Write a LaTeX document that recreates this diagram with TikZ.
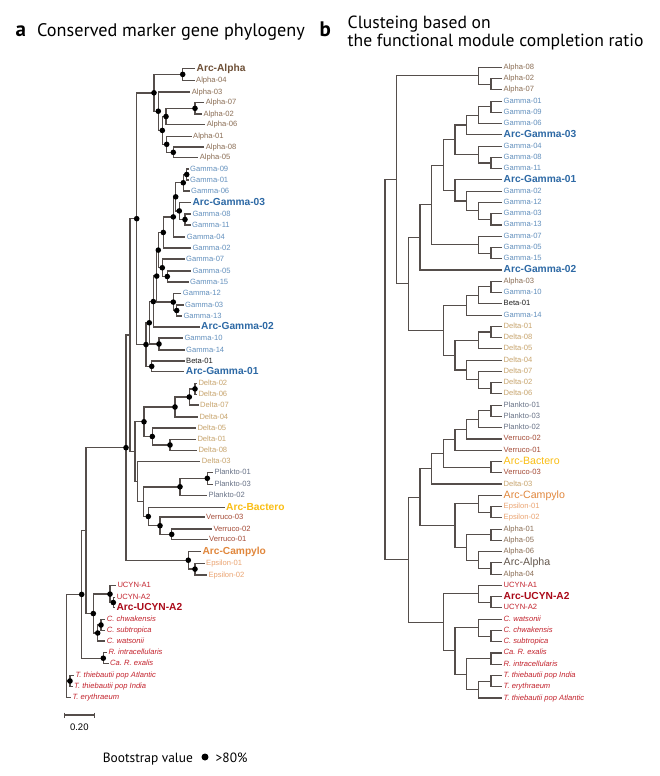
\documentclass[tikz,border=0pt]{standalone}
\usepackage{fontspec}
\setmainfont{Liberation Sans}
\newfontfamily\tfont{PT Sans}
\usetikzlibrary{calc}
\frenchspacing
\definecolor{linec}{RGB}{85,78,75}
\definecolor{alphaC}{RGB}{139,110,85}
\definecolor{arcalphaC}{RGB}{110,80,55}
\definecolor{arcalphaB}{RGB}{100,88,78}
\definecolor{gammaC}{RGB}{100,145,190}
\definecolor{arcgammaC}{RGB}{45,105,165}
\definecolor{betaC}{RGB}{30,30,30}
\definecolor{deltaC}{RGB}{200,165,110}
\definecolor{planktoC}{RGB}{105,115,135}
\definecolor{bacteroC}{RGB}{250,190,20}
\definecolor{verrucoC}{RGB}{165,75,55}
\definecolor{campyloC}{RGB}{225,135,60}
\definecolor{epsilonC}{RGB}{235,165,115}
\definecolor{cyanoC}{RGB}{195,35,45}
\definecolor{arccyanoC}{RGB}{170,10,25}
\newcommand\jn[4]{%
  \path let \p1=(#3), \p2=(#4) in coordinate (#1) at ({#2pt},{0.5*\y1+0.5*\y2});
  \draw[br] (#3) -| (#1) |- (#4);}
\begin{document}
\begin{tikzpicture}[x=1pt,y=-1pt,
  lab/.style={anchor=west, inner xsep=1.5pt, inner ysep=0pt, font=\fontsize{7.6}{9}\selectfont, text height=5.4pt, text depth=1.4pt},
  alab/.style={lab, font=\fontsize{10.2}{12}\bfseries\selectfont, text height=7.3pt, text depth=1.9pt},
  rlab/.style={lab, font=\fontsize{10.6}{12}\selectfont, text height=7.5pt, text depth=2pt},
  tit/.style={anchor=base west, inner sep=0pt, font=\tfont\fontsize{18.2}{20}\selectfont},
  titb/.style={anchor=base west, inner sep=0pt, font=\tfont\fontsize{17.6}{20}\selectfont},
  tlet/.style={anchor=base west, inner sep=0pt, font=\tfont\bfseries\fontsize{21}{21}\selectfont},
  dotc/.style={fill=black}]
\fill[white] (0,0) rectangle (660,776);
\useasboundingbox (0,0) rectangle (660,776);

% ---------- titles ----------
\node[tlet] (ta) at (15.5,36.5) {a};
\node[tit] (tat) at (37,36.5) {Conserved marker gene phylogeny};
\node[tlet] (tb) at (319.5,37) {b};
\node[titb] (tb1) at (347.5,28.5) {Clusteing based on};
\node[titb] (tb2) at (347.5,46.5) {the functional module completion ratio};

% ---------- tree a : leaves ----------
\node[alab,text=arcalphaC] (aArcAlpha) at (195,68.3) {Arc-Alpha};
\node[lab,text=alphaC] (aA04) at (194.5,80.5) {Alpha-04};
\node[lab,text=alphaC] (aA03) at (190.2,92) {Alpha-03};
\node[lab,text=alphaC] (aA07) at (204.2,102.7) {Alpha-07};
\node[lab,text=alphaC] (aA02) at (201.8,114) {Alpha-02};
\node[lab,text=alphaC] (aA06) at (205.2,124.7) {Alpha-06};
\node[lab,text=alphaC] (aA01) at (191.5,136.3) {Alpha-01};
\node[lab,text=alphaC] (aA08) at (204.2,147) {Alpha-08};
\node[lab,text=alphaC] (aA05) at (198.2,157.7) {Alpha-05};
\node[lab,text=gammaC] (aG09) at (188.5,169) {Gamma-09};
\node[lab,text=gammaC] (aG01) at (188.5,180) {Gamma-01};
\node[lab,text=gammaC] (aG06) at (189.5,191) {Gamma-06};
\node[alab,text=arcgammaC] (aAG03) at (190.8,202.3) {Arc-Gamma-03};
\node[lab,text=gammaC] (aG08) at (190.8,214) {Gamma-08};
\node[lab,text=gammaC] (aG11) at (190.5,225) {Gamma-11};
\node[lab,text=gammaC] (aG04) at (185.2,237) {Gamma-04};
\node[lab,text=gammaC] (aG02) at (190.8,248) {Gamma-02};
\node[lab,text=gammaC] (aG07) at (184.5,259) {Gamma-07};
\node[lab,text=gammaC] (aG05) at (190.8,271) {Gamma-05};
\node[lab,text=gammaC] (aG15) at (188.5,282) {Gamma-15};
\node[lab,text=gammaC] (aG12) at (181.2,293.7) {Gamma-12};
\node[lab,text=gammaC] (aG03) at (183.5,305) {Gamma-03};
\node[lab,text=gammaC] (aG13) at (181.8,316) {Gamma-13};
\node[alab,text=arcgammaC] (aAG02) at (199.5,327) {Arc-Gamma-02};
\node[lab,text=gammaC] (aG10) at (182.8,338) {Gamma-10};
\node[lab,text=gammaC] (aG14) at (184.5,350) {Gamma-14};
\node[lab,text=betaC] (aB01) at (184.5,361) {Beta-01};
\node[alab,text=arcgammaC] (aAG01) at (184.2,371.7) {Arc-Gamma-01};
\node[lab,text=deltaC] (aD02) at (196.8,383.3) {Delta-02};
\node[lab,text=deltaC] (aD06) at (196.8,394.5) {Delta-06};
\node[lab,text=deltaC] (aD07) at (198.5,405) {Delta-07};
\node[lab,text=deltaC] (aD04) at (197.8,417) {Delta-04};
\node[lab,text=deltaC] (aD05) at (195.8,428) {Delta-05};
\node[lab,text=deltaC] (aD01) at (195.8,439.3) {Delta-01};
\node[lab,text=deltaC] (aD08) at (196.8,450.7) {Delta-08};
\node[lab,text=deltaC] (aD03) at (200.2,461.3) {Delta-03};
\node[lab,text=planktoC] (aP01) at (212.8,472.3) {Plankto-01};
\node[lab,text=planktoC] (aP03) at (212.8,484.3) {Plankto-03};
\node[lab,text=planktoC] (aP02) at (206.8,495.3) {Plankto-02};
\node[alab,text=bacteroC] (aABac) at (224.5,507.3) {Arc-Bactero};
\node[lab,text=verrucoC] (aV03) at (204.5,517) {Verruco-03};
\node[lab,text=verrucoC] (aV02) at (211.8,529) {Verruco-02};
\node[lab,text=verrucoC] (aV01) at (207.5,539.7) {Verruco-01};
\node[alab,text=campyloC] (aACam) at (200.8,551.3) {Arc-Campylo};
\node[lab,text=epsilonC] (aE01) at (204.5,563.2) {Epsilon-01};
\node[lab,text=epsilonC] (aE02) at (206.8,575) {Epsilon-02};
\node[lab,text=cyanoC] (aU1) at (115.8,585.7) {UCYN-A1};
\node[lab,text=cyanoC] (aU2) at (115.2,597.3) {UCYN-A2};
\node[alab,text=arccyanoC] (aAU2) at (114.8,607.7) {Arc-UCYN-A2};
\node[lab,text=cyanoC] (aCc) at (105.2,619.3) {\itshape C. chwakensis};
\node[lab,text=cyanoC] (aCs) at (105.2,630.7) {\itshape C. subtropica};
\node[lab,text=cyanoC] (aCw) at (105.2,641) {\itshape C. watsonii};
\node[lab,text=cyanoC] (aRi) at (106.8,652.7) {\itshape R. intracellularis};
\node[lab,text=cyanoC] (aRe) at (108.5,663.7) {\itshape Ca. R. exalis};
\node[lab,text=cyanoC] (aTA) at (73.8,675.3) {\itshape T. thiebautii pop Atlantic};
\node[lab,text=cyanoC] (aTI) at (72.5,686.7) {\itshape T. thiebautii pop India};
\node[lab,text=cyanoC] (aTe) at (70.8,697.7) {\itshape T. erythraeum};

% ---------- tree a : branches ----------
\begin{scope}[br/.style={draw=linec, line width=1.4pt}]
\jn{na1}{182.7}{aArcAlpha.west}{aA04.west}
\jn{na2}{195}{aA07.west}{aA02.west}
\jn{na3}{166}{na2}{aA06.west}
\jn{na4}{173.3}{aA08.west}{aA05.west}
\jn{na5}{166.7}{aA01.west}{na4}
\jn{na6}{162.3}{na3}{na5}
\jn{na7}{158.3}{aA03.west}{na6}
\jn{na8}{154}{na1}{na7}
\jn{ng1}{186.7}{aG09.west}{aG01.west}
\jn{ng2}{183.3}{ng1}{aG06.west}
\jn{ng3}{185}{aG08.west}{aG11.west}
\jn{ng4}{179.3}{aAG03.west}{ng3}
\jn{ng5}{175.7}{ng2}{ng4}
\jn{ng6}{173.3}{ng5}{aG04.west}
\jn{ng7}{163.3}{ng6}{aG02.west}
\jn{ng8}{167.3}{aG05.west}{aG15.west}
\jn{ng9}{162.3}{aG07.west}{ng8}
\jn{ng10}{158.3}{ng7}{ng9}
\jn{ng11}{176.7}{aG03.west}{aG13.west}
\jn{ng12}{173.3}{aG12.west}{ng11}
\jn{ng13}{156.7}{ng10}{ng12}
\jn{ng14}{153.3}{ng13}{aAG02.west}
\jn{ng15}{159}{aG10.west}{aG14.west}
\jn{ng16}{149.3}{ng14}{ng15}
\jn{ng17}{151.7}{aB01.west}{aAG01.west}
\jn{ng18}{146}{ng16}{ng17}
\jn{nag}{136.7}{na8}{ng18}
\jn{nd1}{195}{aD02.west}{aD06.west}
\jn{nd2}{189.3}{nd1}{aD07.west}
\jn{nd3}{175}{nd2}{aD04.west}
\jn{nd4}{170}{aD01.west}{aD08.west}
\jn{nd5}{152.3}{aD05.west}{nd4}
\jn{nd6}{144}{nd3}{nd5}
\jn{np1}{207.3}{aP01.west}{aP03.west}
\jn{np2}{180}{np1}{aP02.west}
\jn{nv1}{171.7}{aV02.west}{aV01.west}
\jn{nv2}{160}{aV03.west}{nv1}
\jn{nb}{148.3}{aABac.west}{nv2}
\jn{npb}{143.3}{np2}{nb}
\jn{nd7}{137.3}{aD03.west}{npb}
\jn{nd8}{135}{nd6}{nd7}
\jn{nr2}{130}{nag}{nd8}
\jn{ne1}{195}{aE01.west}{aE02.west}
\jn{nc}{188.3}{aACam.west}{ne1}
\jn{nr1}{126}{nr2}{nc}
\jn{nu1}{113.3}{aU2.west}{aAU2.west}
\jn{nu2}{110}{aU1.west}{nu1}
\jn{ncr1}{101}{aCc.west}{aCs.west}
\jn{ncr2}{97.7}{ncr1}{aCw.west}
\jn{ncy}{93.3}{nu2}{ncr2}
\jn{nr0}{86}{nr1}{ncy}
\jn{nri}{103.3}{aRi.west}{aRe.west}
\jn{nq}{81.7}{nr0}{nri}
\jn{nt1}{70}{aTA.west}{aTI.west}
\path let \p1=(nq) in coordinate (nroot) at (66.7pt,\y1);
\draw[br] (nq) -- (nroot) |- (aTe.west);
\draw[br] (nroot |- nt1) -- (nt1);
\end{scope}
\foreach \n in {na1,na2,na3,na4,na5,na6,na7,na8,ng1,ng2,ng3,ng4,ng5,ng6,ng7,ng8,ng9,ng10,ng11,ng12,ng13,ng14,ng15,ng16,ng17,ng18,nag,nd1,nd2,nd3,nd4,nd5,nd6,np1,np2,nv1,nv2,nb,ne1,nc,nr1,nu1,nu2,ncr1,ncr2,ncy,nri,nq,nt1}
  \fill[dotc] (\n) circle (2.8pt);

% scale bar
\coordinate (sb1) at (64.3,715);
\coordinate (sb2) at (94.3,715);
\draw[draw=linec, line width=1.1pt] (sb1) -- (sb2);
\draw[draw=linec, line width=1.1pt] ($(sb1)+(0,-2.5)$) -- ($(sb1)+(0,2.5)$);
\draw[draw=linec, line width=1.1pt] ($(sb2)+(0,-2.5)$) -- ($(sb2)+(0,2.5)$);
\node[font=\fontsize{9.5}{11}\selectfont, inner sep=0pt] (sbl) at (79.3,727) {0.20};

% legend
\node[anchor=base west, inner sep=0pt, font=\tfont\fontsize{13.4}{15}\selectfont] (bsv) at (102.7,762) {Bootstrap value};
\node[circle, fill=black, inner sep=0pt, minimum size=7pt] (bsd) at (205,757) {};
\node[anchor=base west, inner sep=0pt, font=\tfont\fontsize{13.4}{15}\selectfont] (bsp) at (215.5,762) {>80\%};

% ---------- tree b : leaves ----------
\node[lab,text=alphaC] (bA08) at (502,67.3) {Alpha-08};
\node[lab,text=alphaC] (bA02) at (502,78.56) {Alpha-02};
\node[lab,text=alphaC] (bA07) at (502,89.83) {Alpha-07};
\node[lab,text=gammaC] (bG01) at (502,101.09) {Gamma-01};
\node[lab,text=gammaC] (bG09) at (502,112.35) {Gamma-09};
\node[lab,text=gammaC] (bG06) at (502,123.62) {Gamma-06};
\node[alab,text=arcgammaC] (bAG03) at (502,134.88) {Arc-Gamma-03};
\node[lab,text=gammaC] (bG04) at (502,146.14) {Gamma-04};
\node[lab,text=gammaC] (bG08) at (502,157.40) {Gamma-08};
\node[lab,text=gammaC] (bG11) at (502,168.67) {Gamma-11};
\node[alab,text=arcgammaC] (bAG01) at (502,179.93) {Arc-Gamma-01};
\node[lab,text=gammaC] (bG02) at (502,191.19) {Gamma-02};
\node[lab,text=gammaC] (bG12) at (502,202.46) {Gamma-12};
\node[lab,text=gammaC] (bG03) at (502,213.72) {Gamma-03};
\node[lab,text=gammaC] (bG13) at (502,224.98) {Gamma-13};
\node[lab,text=gammaC] (bG07) at (502,236.25) {Gamma-07};
\node[lab,text=gammaC] (bG05) at (502,247.51) {Gamma-05};
\node[lab,text=gammaC] (bG15) at (502,258.77) {Gamma-15};
\node[alab,text=arcgammaC] (bAG02) at (502,270.03) {Arc-Gamma-02};
\node[lab,text=alphaC] (bA03) at (502,281.30) {Alpha-03};
\node[lab,text=gammaC] (bG10) at (502,292.56) {Gamma-10};
\node[lab,text=betaC] (bB01) at (502,303.82) {Beta-01};
\node[lab,text=gammaC] (bG14) at (502,315.09) {Gamma-14};
\node[lab,text=deltaC] (bD01) at (502,326.35) {Delta-01};
\node[lab,text=deltaC] (bD08) at (502,337.61) {Delta-08};
\node[lab,text=deltaC] (bD05) at (502,348.88) {Delta-05};
\node[lab,text=deltaC] (bD04) at (502,360.14) {Delta-04};
\node[lab,text=deltaC] (bD07) at (502,371.40) {Delta-07};
\node[lab,text=deltaC] (bD02) at (502,382.66) {Delta-02};
\node[lab,text=deltaC] (bD06) at (502,393.93) {Delta-06};
\node[lab,text=planktoC] (bP01) at (502,405.19) {Plankto-01};
\node[lab,text=planktoC] (bP03) at (502,416.45) {Plankto-03};
\node[lab,text=planktoC] (bP02) at (502,427.72) {Plankto-02};
\node[lab,text=verrucoC] (bV02) at (502,438.98) {Verruco-02};
\node[lab,text=verrucoC] (bV01) at (502,450.24) {Verruco-01};
\node[rlab,text=bacteroC] (bABac) at (502,461.51) {Arc-Bactero};
\node[lab,text=verrucoC] (bV03) at (502,472.77) {Verruco-03};
\node[lab,text=deltaC] (bD03) at (502,484.03) {Delta-03};
\node[rlab,text=campyloC] (bACam) at (502,495.29) {Arc-Campylo};
\node[lab,text=epsilonC] (bE01) at (502,506.56) {Epsilon-01};
\node[lab,text=epsilonC] (bE02) at (502,517.82) {Epsilon-02};
\node[lab,text=alphaC] (bA01) at (502,529.08) {Alpha-01};
\node[lab,text=alphaC] (bA05) at (502,540.35) {Alpha-05};
\node[lab,text=alphaC] (bA06) at (502,551.61) {Alpha-06};
\node[rlab,text=arcalphaB] (bAA) at (502,562.87) {Arc-Alpha};
\node[lab,text=alphaC] (bA04) at (502,574.14) {Alpha-04};
\node[lab,text=cyanoC] (bU1) at (502,585.40) {UCYN-A1};
\node[alab,text=arccyanoC] (bAU2) at (502,596.66) {Arc-UCYN-A2};
\node[lab,text=cyanoC] (bU2) at (502,607.92) {UCYN-A2};
\node[lab,text=cyanoC] (bCw) at (502,619.19) {\itshape C. watsonii};
\node[lab,text=cyanoC] (bCc) at (502,630.45) {\itshape C. chwakensis};
\node[lab,text=cyanoC] (bCs) at (502,641.71) {\itshape C. subtropica};
\node[lab,text=cyanoC] (bRe) at (502,652.98) {\itshape Ca. R. exalis};
\node[lab,text=cyanoC] (bRi) at (502,664.24) {\itshape R. intracellularis};
\node[lab,text=cyanoC] (bTI) at (502,675.50) {\itshape T. thiebautii pop India};
\node[lab,text=cyanoC] (bTe) at (502,686.77) {\itshape T. erythraeum};
\node[lab,text=cyanoC] (bTA) at (502,698.03) {\itshape T. thiebautii pop Atlantic};

% ---------- tree b : branches ----------
\begin{scope}[br/.style={draw=linec, line width=1.1pt}]
\jn{ba1}{491}{bA02.west}{bA07.west}
\jn{ba2}{478.3}{bA08.west}{ba1}
\jn{bg1}{491}{bG01.west}{bG09.west}
\jn{bg2}{478.3}{bg1}{bG06.west}
\jn{bg3}{466.7}{bg2}{bAG03.west}
\jn{bg4}{491}{bG08.west}{bG11.west}
\jn{bg5}{478.3}{bG04.west}{bg4}
\jn{bg6}{455}{bg3}{bg5}
\jn{bg7}{491}{bG03.west}{bG13.west}
\jn{bg8}{478.3}{bG12.west}{bg7}
\jn{bg9}{466.7}{bG02.west}{bg8}
\jn{bg10}{455}{bAG01.west}{bg9}
\jn{bg11}{443.3}{bg6}{bg10}
\jn{bg12}{491}{bG05.west}{bG15.west}
\jn{bg13}{478.3}{bG07.west}{bg12}
\jn{bg14}{431.7}{bg11}{bg13}
\jn{bg15}{420}{bg14}{bAG02.west}
\jn{bm1}{491}{bA03.west}{bG10.west}
\jn{bm2}{478.3}{bm1}{bB01.west}
\jn{bm3}{466.7}{bm2}{bG14.west}
\jn{bd1}{491}{bD01.west}{bD08.west}
\jn{bd2}{478.3}{bd1}{bD05.west}
\jn{bd3}{491}{bD02.west}{bD06.west}
\jn{bd4}{478.3}{bD07.west}{bd3}
\jn{bd5}{466.7}{bD04.west}{bd4}
\jn{bd6}{455}{bd2}{bd5}
\jn{bm4}{443.3}{bm3}{bd6}
\jn{bb2}{408.3}{bg15}{bm4}
\jn{bb1}{396.7}{ba2}{bb2}
\jn{bp1}{491}{bP01.west}{bP03.west}
\jn{bp2}{478.3}{bp1}{bP02.west}
\jn{bp3}{466.7}{bp2}{bV02.west}
\jn{bp4}{455}{bp3}{bV01.west}
\jn{bv1}{491}{bABac.west}{bV03.west}
\jn{bp5}{443.3}{bp4}{bv1}
\jn{bp6}{431.7}{bp5}{bD03.west}
\jn{bc1}{491}{bE01.west}{bE02.west}
\jn{bc2}{478.3}{bACam.west}{bc1}
\jn{bl1}{491}{bA01.west}{bA05.west}
\jn{bl2}{491}{bAA.west}{bA04.west}
\jn{bl3}{478.3}{bA06.west}{bl2}
\jn{bl4}{466.7}{bl1}{bl3}
\jn{bc3}{455}{bc2}{bl4}
\jn{bp7}{420}{bp6}{bc3}
\jn{bu1}{491}{bAU2.west}{bU2.west}
\jn{bu2}{478.3}{bU1.west}{bu1}
\jn{bcr1}{491}{bCc.west}{bCs.west}
\jn{bcr2}{478.3}{bCw.west}{bcr1}
\jn{br1}{491}{bRe.west}{bRi.west}
\jn{bt1}{491}{bTI.west}{bTe.west}
\jn{bt2}{478.3}{bt1}{bTA.west}
\jn{bt3}{466.7}{br1}{bt2}
\jn{bcr3}{455}{bcr2}{bt3}
\jn{bw}{443.3}{bu2}{bcr3}
\jn{bz}{408.3}{bp7}{bw}
\jn{broot}{385}{bb1}{bz}
\end{scope}
\end{tikzpicture}
\end{document}
